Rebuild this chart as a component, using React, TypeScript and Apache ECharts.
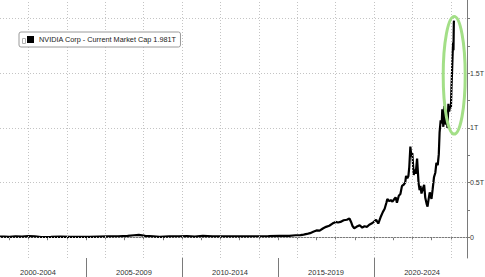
import React, { useEffect, useRef } from 'react';
import * as echarts from 'echarts';

const SERIES_NAME = 'NVIDIA Corp - Current Market Cap 1.981T';
const FONT = "'Liberation Sans', Arial, sans-serif";

const dates: string[] = [
  '2000-07-01', '2000-10-01', '2001-01-01', '2001-05-01', '2001-09-01', '2002-01-01', '2002-05-01', '2002-09-01',
  '2003-03-01', '2003-09-01', '2004-03-01', '2004-09-01', '2005-03-01', '2005-09-01', '2006-03-01', '2006-09-01',
  '2007-03-01', '2007-07-01', '2007-10-01', '2008-02-01', '2008-07-01', '2008-11-01', '2009-05-01', '2009-11-01',
  '2010-04-01', '2010-09-01', '2011-02-01', '2011-08-01', '2012-03-01', '2012-10-01', '2013-05-01', '2013-12-01',
  '2014-07-01', '2015-02-01', '2015-08-01', '2015-12-01',
  '2016-03-01', '2016-05-01', '2016-07-01', '2016-09-01', '2016-11-01', '2017-01-01', '2017-03-01', '2017-05-01',
  '2017-07-01', '2017-09-01', '2017-11-01', '2018-01-01', '2018-02-15', '2018-04-01', '2018-06-01', '2018-08-01',
  '2018-09-20', '2018-10-20', '2018-11-20', '2018-12-20', '2019-02-01', '2019-04-01', '2019-05-20', '2019-07-01',
  '2019-08-20', '2019-10-01', '2019-12-01', '2020-02-10', '2020-03-20', '2020-05-01', '2020-06-15', '2020-07-20',
  '2020-08-25', '2020-09-10', '2020-10-15', '2020-11-15', '2020-12-15', '2021-01-15', '2021-02-15', '2021-03-10',
  '2021-04-15', '2021-05-15', '2021-06-15', '2021-07-15', '2021-08-15', '2021-09-01', '2021-09-25', '2021-10-15',
  '2021-11-01', '2021-11-22', '2021-12-10', '2021-12-28', '2022-01-25', '2022-02-15', '2022-03-01', '2022-03-28',
  '2022-04-25', '2022-05-15', '2022-06-01', '2022-06-20', '2022-07-15', '2022-08-10', '2022-09-01', '2022-09-30',
  '2022-10-14', '2022-11-01', '2022-11-25', '2022-12-28', '2023-01-20', '2023-02-15', '2023-03-10', '2023-03-30',
  '2023-04-25', '2023-05-15', '2023-05-30', '2023-06-20', '2023-07-10', '2023-07-20', '2023-08-10', '2023-08-25',
  '2023-09-10', '2023-09-26', '2023-10-12', '2023-10-27', '2023-11-15', '2023-11-30', '2023-12-15', '2024-01-02',
  '2024-01-12', '2024-01-24', '2024-02-05', '2024-02-14', '2024-02-20', '2024-02-27', '2024-03-01',
];

// market cap in trillions of USD
const marketCapT: number[] = [
  0.006, 0.005, 0.004, 0.008, 0.006, 0.010, 0.007, 0.002,
  0.003, 0.005, 0.004, 0.003, 0.004, 0.006, 0.008, 0.009,
  0.012, 0.018, 0.021, 0.012, 0.008, 0.004, 0.007, 0.009,
  0.010, 0.006, 0.013, 0.008, 0.009, 0.007, 0.008, 0.009,
  0.010, 0.012, 0.013, 0.018,
  0.019, 0.024, 0.030, 0.037, 0.050, 0.062, 0.060, 0.080,
  0.095, 0.105, 0.125, 0.140, 0.135, 0.140, 0.155, 0.160,
  0.172, 0.140, 0.100, 0.082, 0.095, 0.110, 0.088, 0.100,
  0.095, 0.115, 0.130, 0.160, 0.125, 0.180, 0.230, 0.260,
  0.320, 0.350, 0.330, 0.340, 0.325, 0.345, 0.365, 0.315,
  0.380, 0.395, 0.470, 0.480, 0.500, 0.560, 0.540, 0.560,
  0.640, 0.830, 0.740, 0.770, 0.570, 0.620, 0.580, 0.720,
  0.500, 0.430, 0.470, 0.400, 0.440, 0.480, 0.360, 0.300,
  0.280, 0.340, 0.410, 0.350, 0.440, 0.550, 0.590, 0.680,
  0.660, 0.760, 0.960, 1.070, 1.040, 1.170, 1.010, 1.200,
  1.110, 1.030, 1.130, 1.000, 1.220, 1.150, 1.200, 1.180,
  1.360, 1.520, 1.690, 1.780, 1.710, 1.970, 1.981,
];

const periodLabels = ['2000-2004', '2005-2009', '2010-2014', '2015-2019', '2020-2024'];
const periodCenters = [2002.5, 2007.5, 2012.5, 2017.5, 2022.5];
const periodBounds = [2005, 2010, 2015, 2020];
const yearTicks = [
  2001, 2002, 2003, 2004, 2005, 2006, 2007, 2008, 2009, 2010, 2011, 2012,
  2013, 2014, 2015, 2016, 2017, 2018, 2019, 2020, 2021, 2022, 2023, 2024,
];
const gridYears = [2002, 2004, 2006, 2008, 2010, 2012, 2014, 2016, 2018, 2020, 2022, 2024];
const yGridValues = [0, 0.5, 1, 1.5, 2];
const yTickValues = [0, 0.25, 0.5, 0.75, 1, 1.25, 1.5, 1.75, 2];
const yLabelValues = [0, 0.5, 1, 1.5];
const yLabelTexts = ['0', '0.5T', '1T', '1.5T'];
const lastValue = 1.981;
const lastValueLabel = '1.98';

const X_MIN = 2000.52;
const X_MAX = 2024.84;
const Y_MIN = -0.19;
const Y_MAX = 2.17;

function toYear(d: string): number {
  const [y, m, dd] = d.split('-').map(Number);
  return y + (m - 1) / 12 + ((dd || 1) - 1) / 365;
}

export default function App() {
  const ref = useRef<HTMLDivElement>(null);

  useEffect(() => {
    if (!ref.current) return;
    const chart = echarts.init(ref.current, undefined, { renderer: 'svg' });
    const grey = '#7a7a7a';
    const gridLine = { color: '#c4c4c4', width: 1, type: [1, 2] as any };

    chart.setOption({
      animation: false,
      backgroundColor: '#ffffff',
      textStyle: { fontFamily: FONT },
      grid: { left: 0, right: 18, top: 0, bottom: 19, containLabel: false, outerBoundsMode: 'none' } as any,
      legend: {
        show: true,
        data: [SERIES_NAME],
        left: 19,
        top: 32,
        padding: [4, 4, 4, 8],
        itemWidth: 7,
        itemHeight: 7,
        icon: 'rect',
        backgroundColor: '#ffffff',
        borderColor: '#9a9a9a',
        borderWidth: 1,
        borderRadius: 2,
        selectedMode: false,
        textStyle: { fontSize: 7.3, color: '#222', fontFamily: FONT },
        z: 20,
      },
      xAxis: [
        {
          type: 'value',
          min: X_MIN,
          max: X_MAX,
          position: 'bottom',
          axisLine: { show: true, lineStyle: { color: grey, width: 1 } },
          axisTick: { show: true, customValues: yearTicks, length: 3, lineStyle: { color: grey } },
          axisLabel: {
            show: true,
            customValues: periodCenters,
            margin: 10,
            color: '#333',
            fontSize: 7.5,
            fontFamily: FONT,
            formatter: (v: number) => {
              const i = periodCenters.findIndex((c) => Math.abs(c - v) < 0.01);
              return i >= 0 ? periodLabels[i] : '';
            },
          },
          splitLine: { show: false },
        },
        {
          type: 'value',
          min: X_MIN,
          max: X_MAX,
          position: 'bottom',
          axisLine: { show: false },
          axisTick: { show: true, customValues: periodBounds, length: 19, lineStyle: { color: grey } },
          axisLabel: { show: false },
          splitLine: { show: false },
        },
      ],
      yAxis: {
        type: 'value',
        position: 'right',
        min: Y_MIN,
        max: Y_MAX,
        axisLine: { show: true, lineStyle: { color: grey, width: 1 } },
        axisTick: { show: true, customValues: yTickValues, length: 3, lineStyle: { color: grey } },
        axisLabel: {
          show: true,
          customValues: yLabelValues,
          margin: 3,
          color: '#333',
          fontSize: 7,
          fontFamily: FONT,
          formatter: (v: number) => {
            const i = yLabelValues.findIndex((c) => Math.abs(c - v) < 1e-6);
            return i >= 0 ? yLabelTexts[i] : '';
          },
        },
        splitLine: { show: false },
      },
      series: [
        {
          type: 'line',
          name: 'gridlines',
          data: [],
          z: 1,
          silent: true,
          markLine: {
            silent: true,
            symbol: 'none',
            label: { show: false },
            lineStyle: gridLine,
            data: [
              ...gridYears.map((x) => ({ xAxis: x })),
              ...yGridValues.map((y) => ({ yAxis: y })),
            ],
          },
        },
        {
          type: 'line',
          name: SERIES_NAME,
          data: dates.map((d, i) => [toYear(d), marketCapT[i]]),
          showSymbol: false,
          symbol: 'none',
          lineStyle: { color: '#000', width: 2.2 },
          itemStyle: { color: '#000' },
          z: 3,
          markLine: {
            silent: true,
            symbol: 'none',
            data: [
              {
                yAxis: lastValue,
                lineStyle: { opacity: 0 },
                label: {
                  show: true,
                  position: 'end',
                  formatter: lastValueLabel,
                  color: '#fff',
                  backgroundColor: '#000',
                  padding: [2, 2, 1, 2],
                  borderRadius: 1,
                  fontSize: 7,
                  fontFamily: FONT,
                  distance: 0,
                },
              },
            ],
          },
        },
      ],
      graphic: [
        {
          type: 'ellipse',
          shape: { cx: 454.2, cy: 75.3, rx: 11, ry: 58.8 },
          style: { fill: 'none', stroke: '#a3df87', lineWidth: 3 },
          z: 100,
        },
        {
          type: 'rect',
          shape: { x: 22.5, y: 38.5, width: 3, height: 5 },
          style: { fill: '#fff', stroke: '#b0b0b0', lineWidth: 1 },
          z: 100,
        },
      ],
    });

    return () => chart.dispose();
  }, []);

  return (
    <div
      ref={ref}
      style={{ position: 'fixed', left: 0, top: 0, width: 485, height: 277 }}
    />
  );
}
